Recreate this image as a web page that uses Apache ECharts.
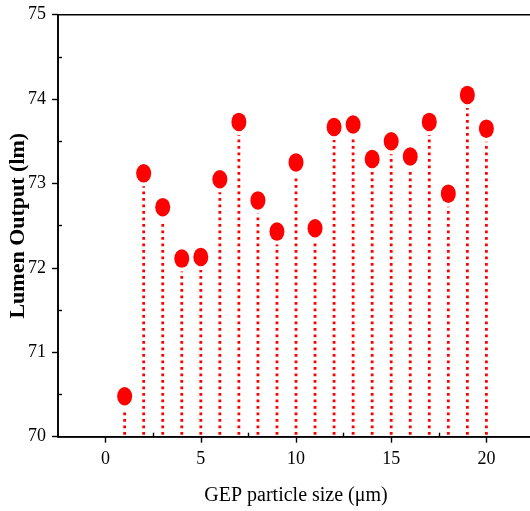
<!DOCTYPE html>
<html>
<head>
<meta charset="utf-8">
<script src="https://cdn.jsdelivr.net/npm/echarts@6/dist/echarts.min.js"></script>
<style>
html,body{margin:0;padding:0;background:#fff;}
#chart{width:530px;height:511px;}
</style>
</head>
<body>
<div id="chart"></div>
<script>
// Data
const particleSize = [1,2,3,4,5,6,7,8,9,10,11,12,13,14,15,16,17,18,19,20];
const lumenOutput = [70.48,73.12,72.72,72.11,72.13,73.05,73.73,72.80,72.43,73.25,72.47,73.67,73.70,73.29,73.50,73.32,73.73,72.88,74.05,73.65];
const xTicks = [0,5,10,15,20];
const xMinorTicks = [2.5,7.5,12.5,17.5];
const yTicks = [70,71,72,73,74,75];
const yMinorTicks = [70.5,71.5,72.5,73.5,74.5];
const xTitle = 'GEP particle size (\u03bcm)';
const yTitle = 'Lumen Output (lm)';

const pts = particleSize.map((x,i)=>[x,lumenOutput[i]]);
const FONT = 'Liberation Serif';

const chart = echarts.init(document.getElementById('chart'));
const baseAxisLine = {show:true, onZero:false, lineStyle:{color:'#000', width:1.6}};
chart.setOption({
  animation:false,
  grid:{left:58, top:14.7, width:476, height:422, show:true, borderColor:'#000', borderWidth:1.6, backgroundColor:'transparent', containLabel:false, outerBoundsMode:'none'},
  xAxis:[{
    type:'value', min:-2.5, max:22.5, position:'bottom',
    axisLine:baseAxisLine,
    axisTick:{show:true, customValues:xTicks, length:6, inside:false, lineStyle:{color:'#000', width:1.4}},
    axisLabel:{customValues:xTicks, color:'#000', fontFamily:FONT, fontSize:18, margin:14},
    splitLine:{show:false},
    name:xTitle, nameLocation:'middle', nameGap:49, nameMoveOverlap:false,
    nameTextStyle:{color:'#000', fontFamily:FONT, fontSize:20}
  },{
    type:'value', min:-2.5, max:22.5, position:'bottom',
    axisLine:{show:false, onZero:false},
    axisTick:{show:true, customValues:xMinorTicks, length:4, inside:true, lineStyle:{color:'#000', width:1.4}},
    axisLabel:{show:false}, splitLine:{show:false}
  }],
  yAxis:[{
    type:'value', min:70, max:75, interval:1, position:'left',
    axisLine:baseAxisLine,
    axisTick:{show:true, length:6, inside:false, lineStyle:{color:'#000', width:1.4}},
    axisLabel:{color:'#000', fontFamily:FONT, fontSize:18, margin:12,
      customValues:yTicks},
    splitLine:{show:false},
    name:yTitle, nameLocation:'middle', nameGap:29, nameRotate:90, nameMoveOverlap:false,
    nameTextStyle:{color:'#000', fontFamily:FONT, fontSize:22, fontWeight:'bold'}
  },{
    type:'value', min:70, max:75, position:'left', offset:0,
    axisLine:{show:false, onZero:false},
    axisTick:{show:true, customValues:yMinorTicks, length:4, inside:true, lineStyle:{color:'#000', width:1.4}},
    axisLabel:{show:false}, splitLine:{show:false}
  }],
  series:[{
    type:'custom',
    xAxisIndex:0, yAxisIndex:0,
    data:pts,
    renderItem:function(params, api){
      const top = api.coord([api.value(0), api.value(1)]);
      const bot = api.coord([api.value(0), 70]);
      return {
        type:'line',
        shape:{x1:bot[0], y1:bot[1]-2, x2:top[0], y2:top[1]+13},
        style:{stroke:'#ff0000', lineWidth:2.8, lineDash:[2.8,3.7], fill:null}
      };
    },
    z:2
  },{
    type:'scatter',
    xAxisIndex:0, yAxisIndex:0,
    data:pts,
    symbol:'path://M50,0A50,50,0,1,1,50,100A50,50,0,1,1,50,0Z',
    symbolKeepAspect:false,
    symbolSize:[15,18.5],
    itemStyle:{color:'#ff0000', opacity:1},
    z:3
  }]
});
</script>
</body>
</html>
